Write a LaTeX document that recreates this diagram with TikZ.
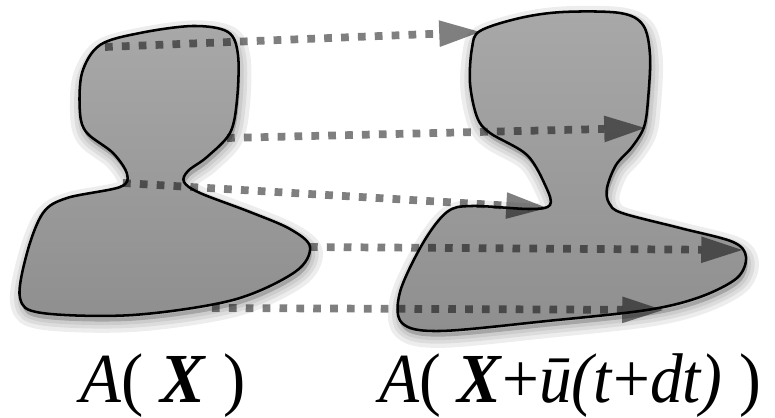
\documentclass[tikz,border=0pt]{standalone}
\usepackage{fontspec}
\setmainfont{Liberation Serif}
\usepackage{tikz}
\usetikzlibrary{arrows.meta}
\definecolor{blobtop}{HTML}{A8A8A8}
\definecolor{blobbottom}{HTML}{8F8F8F}
\definecolor{outline}{HTML}{000000}

\def\leftblob{plot[smooth cycle, tension=0.55] coordinates {
  (100,45) (140,33) (193,26) (228,32) (238,55) (237,100) (230,133)
  (207,157) (188,171) (184,182) (200,193) (250,212) (290,229) (310,247)
  (295,272) (233,300) (133,315) (42,313) (20,298) (27,253) (43,213)
  (67,198) (120,187) (127,174) (113,153) (87,133) (80,113) (82,73)}}
\def\rightblob{plot[smooth cycle, tension=0.55] coordinates {
  (480,31) (520,18) (563,12) (620,13) (643,25) (650,55) (648,100)
  (644,127) (632,147) (616,165) (607,188) (609,203) (622,213) (680,228)
  (733,242) (746,257) (737,278) (700,297) (647,310) (547,321) (440,331)
  (402,323) (400,292) (423,243) (447,212) (472,206) (530,209) (550,205)
  (546,187) (527,155) (490,133) (477,117) (470,83) (472,48)}}

\begin{document}
\begin{tikzpicture}[
  x=0.025cm, y=-0.025cm,
  shadow/.style={draw=black, fill=black, opacity=0.07},
  blob/.style={draw=outline, line width=1.8pt, top color=blobtop,
               bottom color=blobbottom},
  motion/.style={draw=black, opacity=0.5, line width=5.5pt,
                 dash pattern=on 5.5pt off 6.5pt,
                 -{Triangle[length=29pt, width=19pt, line width=0pt]}},
  label/.style={anchor=base, font=\fontsize{50}{50}\selectfont, inner sep=0pt}
]
  \useasboundingbox (0,0) rectangle (775,418);

  \foreach \w in {16pt,10pt,5pt} {
    \path[shadow, line width=\w, yshift=-0.14cm, xshift=0.04cm] \leftblob;
    \path[shadow, line width=\w, yshift=-0.14cm, xshift=0.04cm] \rightblob;
  }
  \path[blob] \leftblob;
  \path[blob] \rightblob;

  \coordinate (a1) at (105,47);  \coordinate (b1) at (480,32);
  \coordinate (a2) at (227,138); \coordinate (b2) at (645,128);
  \coordinate (a3) at (123,183); \coordinate (b3) at (547,208);
  \coordinate (a4) at (310,247); \coordinate (b4) at (742,250);
  \coordinate (a5) at (212,308); \coordinate (b5) at (663,310);

  \foreach \i in {1,...,5}
    \draw[motion] (a\i) -- (b\i);

  \node[label] (before) at (163,402)
    {\scalebox{0.95}[1]{\textit{A}( \textbf{\textit{X}} )}};
  \node[label] (after) at (570,402)
    {\scalebox{0.93}[1]{\textit{A}( \textbf{\textit{X}}+\textit{ū(t}+\textit{dt)} )}};
\end{tikzpicture}
\end{document}
